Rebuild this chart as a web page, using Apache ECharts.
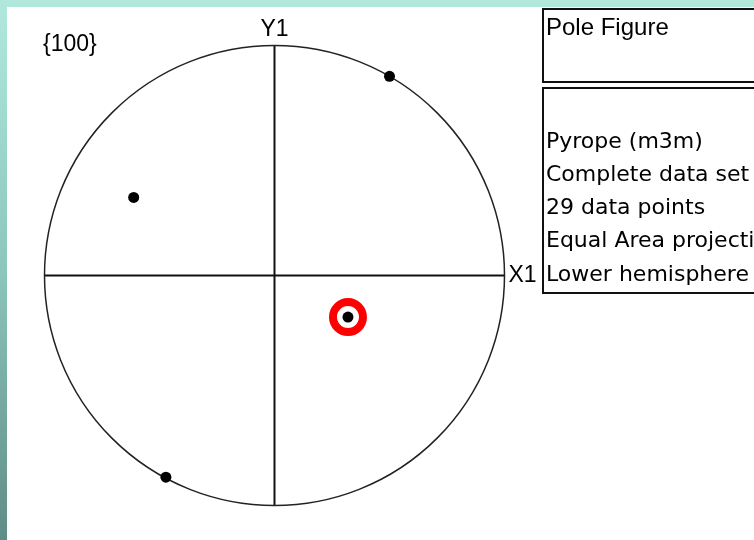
<!DOCTYPE html>
<html>
<head>
    <meta charset="UTF-8">
    <title>Pole Figure</title>
    <script type="text/javascript" src="https://cdn.jsdelivr.net/npm/echarts@6/dist/echarts.min.js"></script>
    <style>
        body { margin: 0; width: 754px; height: 540px; background: #fff; position: relative; overflow: hidden; }
        #topStrip { position: absolute; left: 0; top: 0; width: 754px; height: 7px; background: #b0e8dc; }
        #leftStrip { position: absolute; left: 0; top: 0; width: 7px; height: 540px;
            background: linear-gradient(to bottom, #b0e8dc, #8cc6bd 50%, #5f8c86); }
        #container { position: absolute; left: 0; top: 0; width: 754px; height: 540px; }
    </style>
</head>
<body>
<div id="topStrip"></div>
<div id="leftStrip"></div>
<div id="container"></div>
<script type="text/javascript">
    // poles: [angle in degrees from X1, counter-clockwise; normalised radius]
    const poles = [[60, 1.0], [151, 0.70], [330.5, 0.367], [241.7, 0.996]];
    const highlighted = [[330.5, 0.367]];
    const axisNames = {0: 'X1', 90: 'Y1'};
    const figureTitle = 'Pole Figure';
    const infoLines = ['Pyrope (m3m)', 'Complete data set', '29 data points', 'Equal Area projection', 'Lower hemisphere'];
    const planeLabel = '{100}';

    const font = 'Liberation Sans, Arial, sans-serif';
    const wideFont = 'DejaVu Sans, sans-serif';
    const dom = document.getElementById("container");
    const myChart = echarts.init(dom);

    let graphics = [
        {type: 'text', x: 43, y: 45, style: {text: planeLabel, font: '23px ' + font, fill: '#000', textVerticalAlign: 'middle'}},
        {type: 'rect', shape: {x: 543, y: 9, width: 230, height: 73}, style: {fill: 'none', stroke: '#111', lineWidth: 2}},
        {type: 'text', x: 546, y: 28, style: {text: figureTitle, font: '24px ' + font, fill: '#000', textVerticalAlign: 'middle'}},
        {type: 'rect', shape: {x: 543, y: 88, width: 230, height: 205}, style: {fill: 'none', stroke: '#111', lineWidth: 2}}
    ];
    infoLines.forEach(function (t, i) {
        graphics.push({type: 'text', x: 546, y: 142 + i * 33.2,
            style: {text: t, font: '22px ' + wideFont, fill: '#000', textVerticalAlign: 'middle'}});
    });

    const option = {
        animation: false,
        polar: {center: [274.5, 275.5], radius: 230},
        angleAxis: {
            type: 'value', min: 0, max: 360, interval: 90,
            startAngle: 0, clockwise: false,
            axisLine: {lineStyle: {color: '#222', width: 1.5}},
            axisTick: {show: false},
            splitLine: {show: true, lineStyle: {color: '#111', width: 2}},
            axisLabel: {
                margin: 4, color: '#000', fontSize: 23, fontFamily: font,
                formatter: function (v) { return axisNames[v] || ''; }
            }
        },
        radiusAxis: {
            type: 'value', min: 0, max: 1,
            axisLine: {show: false}, axisTick: {show: false},
            axisLabel: {show: false}, splitLine: {show: false}
        },
        graphic: graphics,
        series: [{
            type: 'scatter', coordinateSystem: 'polar',
            data: poles.map(p => [p[1], p[0]]),
            symbolSize: 11, itemStyle: {color: '#000', opacity: 1}
        }, {
            type: 'scatter', coordinateSystem: 'polar',
            data: highlighted.map(p => [p[1], p[0]]),
            symbolSize: 30,
            itemStyle: {color: 'rgba(0,0,0,0)', borderColor: '#f00', borderWidth: 8, opacity: 1}
        }]
    };
    myChart.setOption(option, true);
</script>
</body>
</html>
